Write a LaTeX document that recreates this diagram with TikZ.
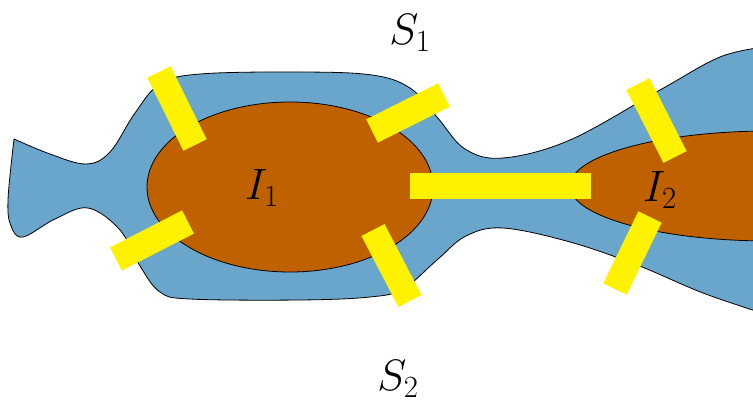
\RequirePackage{fix-cm}
\documentclass[tikz,border=0pt]{standalone}
\usetikzlibrary{positioning}
\definecolor{regionblue}{RGB}{106,165,203}
\definecolor{islandorange}{RGB}{192,97,0}
\begin{document}
\begin{tikzpicture}[
  x=1pt, y=-1pt,
  region/.style = {draw=black, line width=0.8pt, fill=regionblue},
  island/.style = {draw=black, line width=0.8pt, fill=islandorange},
  bridge/.style = {draw=yellow, line width=26pt},
  lbl/.style    = {font=\fontsize{44}{50}\selectfont, inner sep=0pt},
]
\clip (0,0) rectangle (753,403);
% outer region S
\draw[region] plot[smooth, tension=0.6] coordinates {
    (14,139) (50,154) (86,164) (110,152) (135,113) (160,84) (200,74)
    (300,72) (372,75) (410,88) (437,117) (465,149) (503,158) (570,140)
    (660,90) (720,57) (765,47)}
  -- (765,314)
  -- plot[smooth, tension=0.6] coordinates {
    (765,314) (703,293) (637,265) (570,242) (503,228) (466,236)
    (437,260) (403,289) (370,297) (300,300) (190,299) (160,292)
    (140,266) (120,230) (88,208) (55,219) (23,237) (11,226) (8,200)
    (14,139)}
  -- cycle;
% islands
\draw[island] (290,187) ellipse [x radius=143, y radius=85];
\draw[island] (770,186) ellipse [x radius=200, y radius=55];
% bars
\coordinate (b1a) at (159,72);    \coordinate (b1b) at (195,145);
\coordinate (b2a) at (116,259);   \coordinate (b2b) at (188,222);
\coordinate (b3a) at (372,131);   \coordinate (b3b) at (444,95);
\coordinate (b4a) at (373,230);   \coordinate (b4b) at (410,301);
\coordinate (b5a) at (410,186.5); \coordinate (b5b) at (591,186.5);
\coordinate (b6a) at (638,84);    \coordinate (b6b) at (675,157);
\coordinate (b7a) at (615,289);   \coordinate (b7b) at (650,217);
\foreach \i in {1,...,7}
  \draw[bridge] (b\i a) -- (b\i b);
% labels
\node[lbl] (s1) at (410,33)  {$S_1$};
\node[lbl] (s2) at (398,379) {$S_2$};
\node[lbl] (i1) at (262,188) {$I_1$};
\node[lbl] (i2) at (660,190) {$I_2$};
\end{tikzpicture}
\end{document}
